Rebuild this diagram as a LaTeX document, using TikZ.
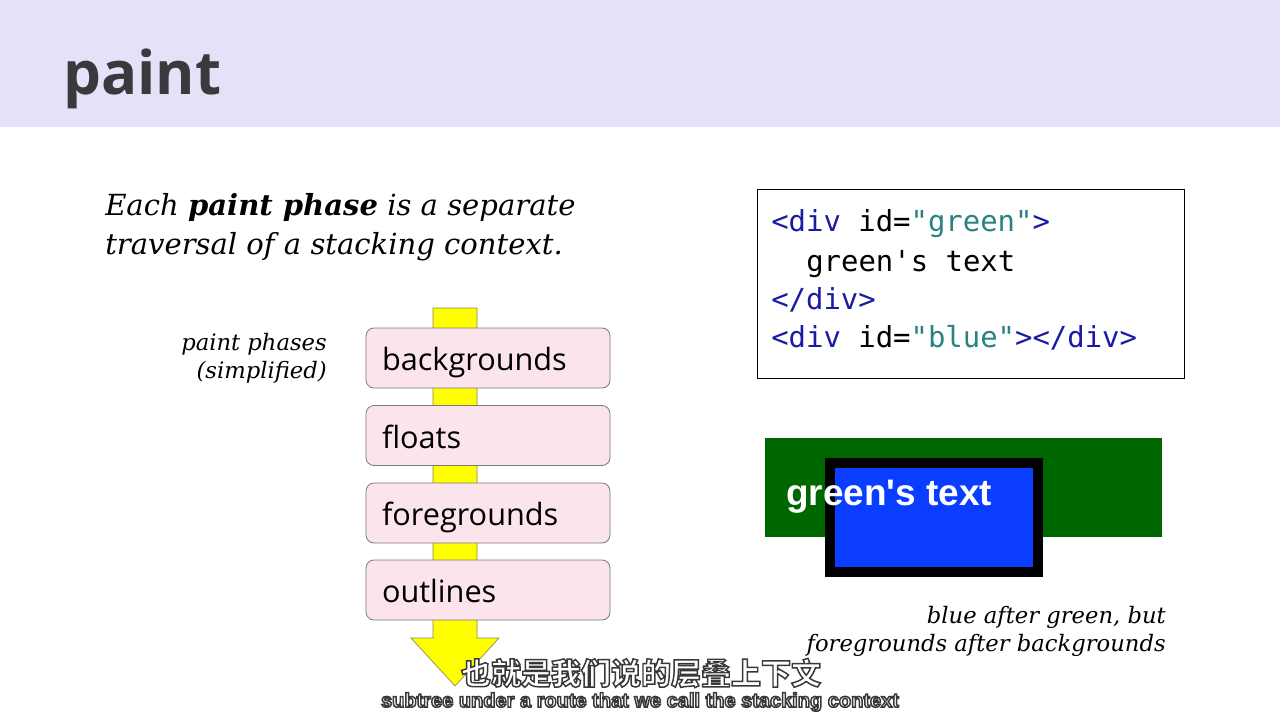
\documentclass[tikz,border=0pt]{standalone}
\usepackage{fontspec}
\setmainfont{DejaVu Serif}
\newfontfamily\titlefont{Open Sans}
\newfontfamily\boxfont{Open Sans}
\newfontfamily\codefont{DejaVu Sans Mono}
\newfontfamily\arialfont{Liberation Sans}
\newfontfamily\cjkfont{Noto Sans CJK SC}

% white glyphs with a dark stroked edge (PDF text render mode 2)
\newcommand\edgedtext[1]{%
  \special{pdf:literal q 2 Tr 1.1 w 0.22 0.22 0.22 RG}#1\special{pdf:literal Q}}

\definecolor{band}{HTML}{E6E1F8}
\definecolor{titlegray}{HTML}{3A393D}
\definecolor{phasepink}{HTML}{FCE4EC}
\definecolor{phaseline}{HTML}{7A7A7A}
\definecolor{arrowyellow}{HTML}{FFFF00}
\definecolor{arrowline}{HTML}{8A8A50}
\definecolor{tagblue}{HTML}{1A1AA6}
\definecolor{strteal}{HTML}{2B8282}
\definecolor{divgreen}{HTML}{006600}
\definecolor{divblue}{HTML}{0A3DFF}

\tikzset{
  phase/.style={draw=phaseline, fill=phasepink, rounded corners=6pt, line width=0.6pt,
    text width=159pt, inner xsep=12pt, inner ysep=0pt, minimum height=45pt, align=left,
    text height=21.5pt, text depth=2.5pt,
    font=\boxfont\fontsize{23}{27}\selectfont},
  italicnote/.style={inner sep=0pt, font=\itshape\fontsize{17}{20}\selectfont},
  codeline/.style={inner sep=0pt, anchor=base west, font=\codefont\fontsize{21.7}{26}\selectfont},
  subtitle/.style={inner sep=0pt, text=white},
}

\begin{document}
\begin{tikzpicture}[x=0.75pt, y=-0.75pt]
  \useasboundingbox (0,0) rectangle (1280,720);
  \fill[white] (0,0) rectangle (1280,720);

  % header band and title
  \fill[band] (0,0) rectangle (1280,127);
  \node[anchor=base west, inner sep=0pt, text=titlegray,
        font=\titlefont\bfseries\fontsize{45}{50}\selectfont] (title) at (63,95) {paint};

  % statement
  \node[anchor=base west, inner sep=0pt, font=\itshape\fontsize{21.8}{26}\selectfont]
    (stmt1) at (105,216) {Each \textbf{paint phase} is a separate};
  \node[anchor=base west, inner sep=0pt, font=\itshape\fontsize{21.8}{26}\selectfont]
    (stmt2) at (105,254) {traversal of a stacking context.};

  % label for the phase column
  \node[italicnote, anchor=base east] (lbl1) at (327,350) {paint phases};
  \node[italicnote, anchor=base east] (lbl2) at (327,378) {(simplified)};

  % traversal arrow behind the phases
  \draw[fill=arrowyellow, draw=arrowline, line width=0.5pt]
    (433,308) -- (477,308) -- (477,638) -- (499,638) -- (455,686)
    -- (411,638) -- (433,638) -- cycle;

  % paint phases
  \node[phase] (bg) at (488,358) {backgrounds};
  \node[phase] (fl) at (488,435.5) {floats};
  \node[phase] (fg) at (488,513) {foregrounds};
  \node[phase] (ol) at (488,590) {outlines};

  % code sample
  \node[draw=black, line width=0.75pt, minimum width=320.25pt, minimum height=141pt,
        inner sep=0pt] (code) at (970.5,284) {};
  \node[codeline] (c1) at (771,232) {\textcolor{tagblue}{<div} id=\textcolor{strteal}{"green"}\textcolor{tagblue}{>}};
  \node[codeline] (c2) at (806,271) {green's text};
  \node[codeline] (c3) at (771,309) {\textcolor{tagblue}{</div>}};
  \node[codeline] (c4) at (771,347) {\textcolor{tagblue}{<div} id=\textcolor{strteal}{"blue"}\textcolor{tagblue}{></div>}};

  % rendered result
  \fill[divgreen] (765,438) rectangle (1162,537);
  \fill[black] (825,458) rectangle (1043,577);
  \fill[divblue] (835,468) rectangle (1033,567);
  \node[anchor=base west, inner sep=0pt, text=white,
        font=\arialfont\bfseries\fontsize{27.7}{30}\selectfont] (gtext) at (786,505) {green's text};

  % caption
  \node[italicnote, anchor=base east] (cap1) at (1166,623) {blue after green, but};
  \node[italicnote, anchor=base east] (cap2) at (1166,651) {foregrounds after backgrounds};

  % subtitles
  \node[subtitle, font=\cjkfont\bfseries\fontsize{22.5}{26}\selectfont] (subcn) at (641,673)
    {\edgedtext{也就是我们说的层叠上下文}};
  \node[subtitle, font=\arialfont\bfseries\fontsize{15}{18}\selectfont] (suben) at (640,702)
    {\edgedtext{subtree under a route that we call the stacking context}};
\end{tikzpicture}
\end{document}
